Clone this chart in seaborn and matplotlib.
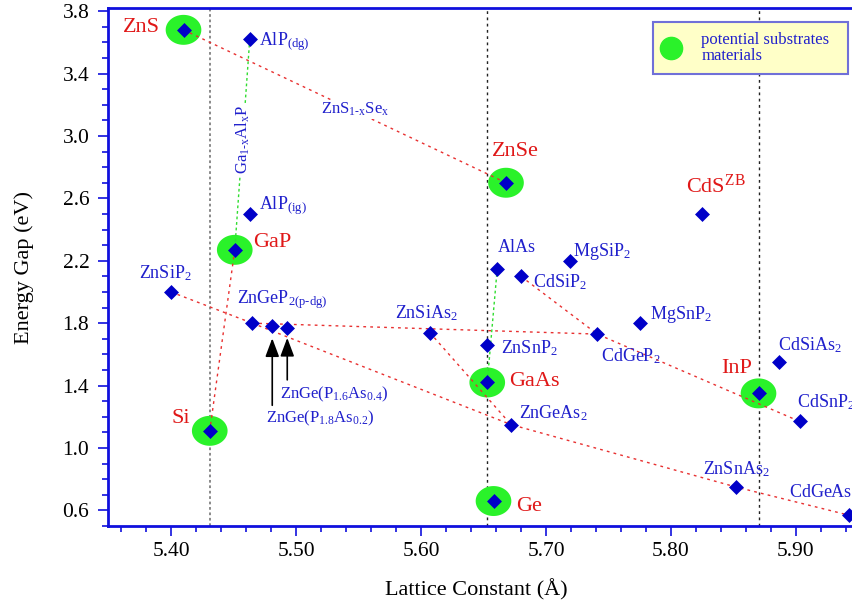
import matplotlib
matplotlib.use("Agg")
import matplotlib.pyplot as plt
import numpy as np
import pandas as pd
import seaborn as sns
from matplotlib.lines import Line2D
from matplotlib.path import Path


# ------------------------------------------------------------
# Energy gap vs lattice constant of III-V / II-IV-V2 compounds
# ------------------------------------------------------------

names = [
    "ZnS", "AlP(dg)", "AlP(ig)", "GaP", "ZnSiP2", "ZnGeP2",
    "ZnGe(P1.8As0.2)", "ZnGe(P1.6As0.4)", "ZnSiAs2", "AlAs", "CdSiP2",
    "MgSiP2", "ZnSnP2", "CdGeP2", "MgSnP2", "GaAs", "ZnSe", "CdS",
    "InP", "CdSiAs2", "CdSnP2", "ZnGeAs2", "ZnSnAs2", "CdGeAs2", "Ge", "Si",
]
lattice = [
    5.410, 5.463, 5.463, 5.451, 5.400, 5.465,
    5.481, 5.493, 5.607, 5.661, 5.680,
    5.719, 5.653, 5.741, 5.775, 5.653, 5.668, 5.825,
    5.870, 5.886, 5.903, 5.672, 5.852, 5.942, 5.658, 5.431,
]
gap = [
    3.68, 3.62, 2.50, 2.27, 2.00, 1.80,
    1.78, 1.77, 1.74, 2.15, 2.10,
    2.20, 1.66, 1.73, 1.80, 1.42, 2.70, 2.50,
    1.35, 1.55, 1.17, 1.15, 0.75, 0.57, 0.66, 1.11,
]

substrates = ["ZnS", "ZnSe", "GaP", "Si", "GaAs", "InP", "Ge", "CdS"]
circled = ["ZnS", "ZnSe", "GaP", "Si", "GaAs", "InP", "Ge"]
guide_lines = ["Si", "GaAs", "InP"]

red_alloys = [
    ["ZnS", "ZnSe"],
    ["GaP", "Si"],
    ["ZnSiP2", "ZnGeP2"],
    ["ZnGeP2", "ZnGeAs2"],
    ["ZnGeP2", "CdGeP2"],
    ["ZnSiAs2", "ZnGeAs2", "ZnSnAs2", "CdGeAs2"],
    ["CdSiP2", "CdGeP2", "CdSnP2"],
]
green_alloys = [
    ["AlP(dg)", "GaP"],
    ["AlAs", "GaAs"],
]

display = {
    "CdS": r"CdS$^{\mathrm{ZB}}$",
    "AlP(dg)": r"AlP$_{(dg)}$",
    "AlP(ig)": r"AlP$_{(ig)}$",
    "ZnSiP2": r"ZnSiP$_2$",
    "ZnGeP2": r"ZnGeP$_{2(p\text{-}dg)}$",
    "ZnGe(P1.8As0.2)": r"ZnGe(P$_{1.8}$As$_{0.2}$)",
    "ZnGe(P1.6As0.4)": r"ZnGe(P$_{1.6}$As$_{0.4}$)",
    "ZnSiAs2": r"ZnSiAs$_2$",
    "CdSiP2": r"CdSiP$_2$",
    "MgSiP2": r"MgSiP$_2$",
    "ZnSnP2": r"ZnSnP$_2$",
    "CdGeP2": r"CdGeP$_2$",
    "MgSnP2": r"MgSnP$_2$",
    "CdSiAs2": r"CdSiAs$_2$",
    "CdSnP2": r"CdSnP$_2$",
    "ZnGeAs2": r"ZnGeAs$_2$",
    "ZnSnAs2": r"ZnSnAs$_2$",
    "CdGeAs2": r"CdGeAs$_2$",
}

# label offsets from the marker in pixels: (dx right, dy up, ha)
label_offsets = {
    "ZnS": (-24, 2, "right"), "ZnSe": (9, 31, "center"), "GaP": (18, 7, "left"),
    "Si": (-20, 12, "right"), "GaAs": (22, 1, "left"), "InP": (-6, 25, "right"),
    "Ge": (23, -5, "left"), "CdS": (14, 28, "center"),
    "AlP(dg)": (9, -3, "left"), "AlP(ig)": (9, 8, "left"),
    "ZnSiP2": (-6, 19, "center"), "ZnGeP2": (-15, 23, "left"),
    "ZnSiAs2": (-35, 19, "left"), "AlAs": (1, 21, "left"),
    "MgSiP2": (3, 9, "left"), "CdSiP2": (12, -6, "left"),
    "MgSnP2": (10, 9, "left"), "ZnSnP2": (14, -3, "left"),
    "CdGeP2": (4, -22, "left"), "CdSiAs2": (-1, 17, "left"),
    "CdSnP2": (-3, 19, "left"), "ZnGeAs2": (8, 11, "left"),
    "ZnSnAs2": (-33, 18, "left"), "CdGeAs2": (-60, 23, "left"),
    "ZnGe(P1.8As0.2)": (-6, -92, "left"), "ZnGe(P1.6As0.4)": (-7, -67, "left"),
}
# arrows under the two ZnGe(P,As) points: (tail below, tip gap) in pixels
arrows = {"ZnGe(P1.8As0.2)": (79, 12), "ZnGe(P1.6As0.4)": (52, 10)}

BLUE = "#0000c8"
TEXT_BLUE = "#2020cc"
RED = "#e01818"
GREEN = "#2af22a"
PX = 0.72  # pixels -> points at dpi 100

sns.set_theme(style="white")
plt.rcParams["font.family"] = ["Liberation Serif", "DejaVu Serif"]
plt.rcParams["mathtext.fontset"] = "custom"
plt.rcParams["mathtext.rm"] = "Liberation Serif"
plt.rcParams["mathtext.it"] = "Liberation Serif:italic"
plt.rcParams["mathtext.bf"] = "Liberation Serif:bold"
plt.rcParams["mathtext.default"] = "rm"

df = pd.DataFrame({"name": names, "lattice": lattice, "gap": gap}).set_index("name", drop=False)

fig = plt.figure(figsize=(8.52, 6.04), dpi=100)
ax = fig.add_axes([108 / 852, 78 / 604, 744 / 852, 518 / 604])

for n in guide_lines:
    style = (0, (1.5, 1.5)) if n == "Si" else (0, (2, 2.5))
    col = "#808080" if n == "Si" else "#222222"
    lw = 1.3 if n == "Si" else 1.0
    ax.axvline(df.loc[n, "lattice"], color=col, lw=lw, linestyle=style, zorder=0)

# elliptical highlight for substrate materials
t = np.linspace(0, 2 * np.pi, 60)
ellipse = Path(np.column_stack([np.cos(t), 0.84 * np.sin(t)]))
sns.scatterplot(data=df.loc[circled], x="lattice", y="gap", marker=ellipse,
                s=660, color=GREEN, edgecolor="none", linewidth=0, ax=ax, zorder=1)

for chain in red_alloys:
    seg = df.loc[chain]
    sns.lineplot(x=seg["lattice"].values, y=seg["gap"].values, sort=False, estimator=None,
                 color="#e83030", lw=1, linestyle=(0, (2, 3)), ax=ax, zorder=2)
for chain in green_alloys:
    seg = df.loc[chain]
    sns.lineplot(x=seg["lattice"].values, y=seg["gap"].values, sort=False, estimator=None,
                 color="#30dd30", lw=1, linestyle=(0, (2, 2)), ax=ax, zorder=2)

sns.scatterplot(data=df, x="lattice", y="gap", marker="D", s=58, color=BLUE,
                edgecolor=BLUE, linewidth=0, ax=ax, zorder=3)

for n in names:
    dx, dy, ha = label_offsets[n]
    is_sub = n in substrates
    small = n.startswith("ZnGe(")
    ax.annotate(display.get(n, n), xy=(df.loc[n, "lattice"], df.loc[n, "gap"]),
                xytext=(dx * PX, dy * PX), textcoords="offset points",
                ha=ha, va="center", fontsize=16 if is_sub else (12 if small else 13),
                color=RED if is_sub else TEXT_BLUE, zorder=4)

for n, (tail, tip) in arrows.items():
    ax.annotate("", xy=(df.loc[n, "lattice"], df.loc[n, "gap"]),
                xytext=(0, -tail * PX), textcoords="offset points",
                arrowprops=dict(arrowstyle="-|>,head_length=0.8,head_width=0.3",
                                color="black", lw=1.2, shrinkA=0, shrinkB=tip * PX,
                                mutation_scale=14), zorder=4)

# alloy names along their lines
for pair, text, (dx, dy), rot in [
    (["ZnS", "ZnSe"], r"ZnS$_{1\text{-}x}$Se$_x$", (10, -3), 0),
    (["AlP(dg)", "GaP"], r"Ga$_{1\text{-}x}$Al$_x$P", (1, 5), 90),
]:
    mid = df.loc[pair, ["lattice", "gap"]].mean()
    ax.annotate(text, xy=(mid["lattice"], mid["gap"]), xytext=(dx * PX, dy * PX),
                textcoords="offset points", ha="center", va="center", rotation=rot,
                fontsize=12, color=TEXT_BLUE, zorder=4,
                bbox=dict(facecolor="white", edgecolor="none", pad=0.5))

ax.set_xlim(5.3496, 5.9448)
ax.set_ylim(0.5, 3.82)
ax.set_xticks(np.arange(5.40, 5.91, 0.10))
ax.set_xticks(np.arange(5.36, 5.945, 0.02), minor=True)
ax.set_xticklabels([f"{v:.2f}" for v in np.arange(5.40, 5.91, 0.10)])
ax.set_yticks(np.arange(0.6, 3.81, 0.4))
ax.set_yticks(np.arange(0.5, 3.82, 0.1), minor=True)
ax.set_yticklabels([f"{v:.1f}" for v in np.arange(0.6, 3.81, 0.4)])
ax.tick_params(which="both", direction="out", color="#1010dd", width=1.2,
               labelsize=15.5, labelcolor="black", bottom=True, left=True)
ax.tick_params(which="major", length=7.5)
ax.tick_params(which="minor", length=4.5)
ax.tick_params(axis="x", pad=4)
ax.tick_params(axis="y", pad=6)

for side in ["left", "bottom", "top"]:
    ax.spines[side].set_color("#1010dd")
    ax.spines[side].set_linewidth(2)
ax.spines["right"].set_visible(False)

ax.set_xlabel("Lattice Constant (Å)", fontsize=16, color="black")
ax.set_ylabel("Energy Gap (eV)", fontsize=16, color="black")
ax.xaxis.set_label_coords(0.4946, -0.102)
ax.yaxis.set_label_coords(-0.10, 0.5)

handle = Line2D([], [], marker="o", color=GREEN, linestyle="none", markersize=16)
leg = ax.legend([handle], ["potential substrates\nmaterials"], loc="upper left",
                bbox_to_anchor=(0.7325, 0.873, 0.262, 0.1), mode="expand",
                borderaxespad=0, fontsize=12, labelcolor=TEXT_BLUE, fancybox=False,
                framealpha=1, handlelength=1.0, handletextpad=1.3, borderpad=0.6)
leg.get_frame().set_facecolor("#ffffc8")
leg.get_frame().set_edgecolor("#7070d8")
leg.get_frame().set_linewidth(1.5)
for txt in leg.get_texts():
    txt.set_linespacing(1.0)
    txt.set_multialignment("left")
leg.set_zorder(5)

fig.savefig("out.png", dpi=100)
